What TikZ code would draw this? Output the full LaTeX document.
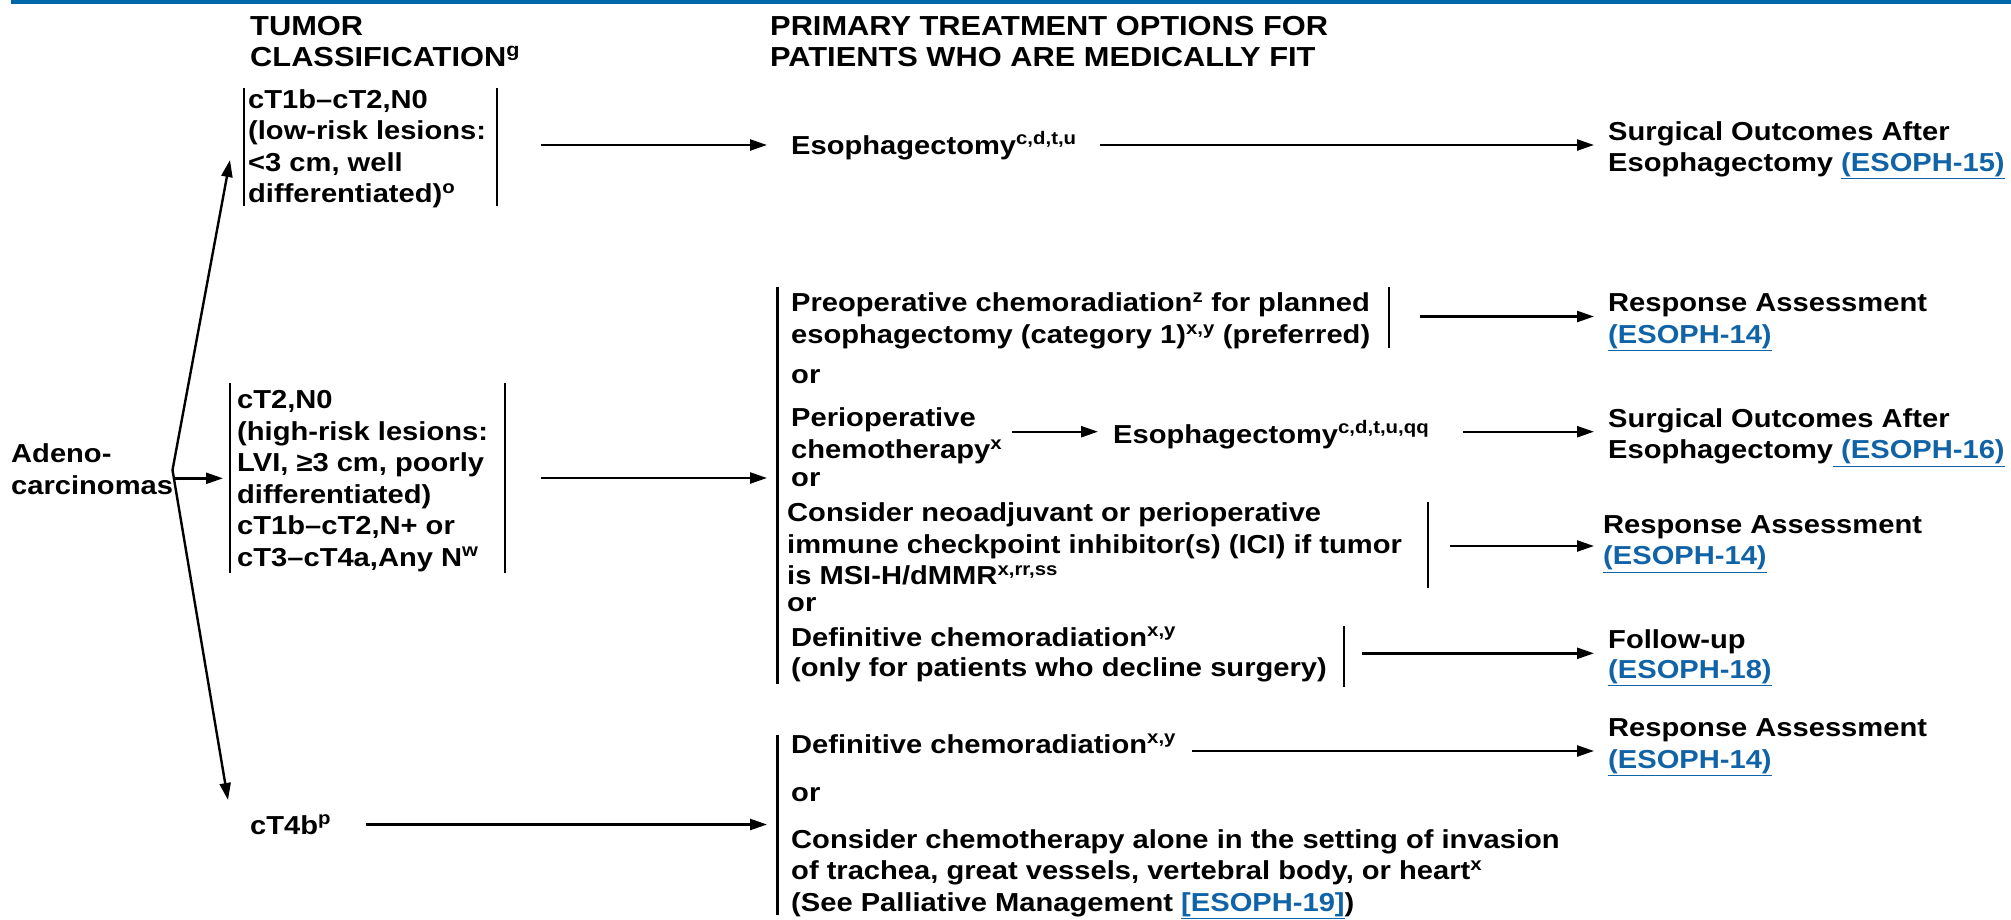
\documentclass[tikz,border=0pt]{standalone}
\usepackage{fontspec}
\setmainfont{Liberation Sans}[FakeStretch=1.12]
\usetikzlibrary{arrows.meta}
\definecolor{lnk}{HTML}{0F63A6}
\definecolor{rule}{HTML}{0067AB}
\newcommand\dfont{\fontsize{26pt}{31.6pt}\selectfont\bfseries}
\newcommand\hfont{\fontsize{27.5pt}{31pt}\selectfont\bfseries}
\newcommand\ml[2][31.6pt]{\vtop{\baselineskip=#1\relax\lineskiplimit=-\maxdimen\lineskip=0pt\relax #2}}
\newcommand\rl[1]{\hbox{#1}}
\newcommand\sps[1]{\textsuperscript{#1}}
\newcommand\lk[1]{\textcolor{lnk}{\underline{#1}}}
\tikzset{
  txt/.style={inner sep=0pt, anchor=base west, font=\dfont},
  hdr/.style={inner sep=0pt, anchor=base west, font=\hfont},
  bar/.style={line width=2.2pt},
  arr/.style={line width=2.4pt, -{Triangle[length=17pt,width=11pt]}},
  darr/.style={line width=2.4pt, {Triangle[length=17pt,width=11pt]}-{Triangle[length=17pt,width=11pt]}},
}
\begin{document}
\begin{tikzpicture}[x=1pt,y=-1pt]
\useasboundingbox (0,0) rectangle (2011,919);
\fill[rule] (11,0) rectangle (2011,4);

% headers
\node[hdr] (hd1) at (250,35) {\ml[31pt]{\rl{TUMOR}\rl{CLASSIFICATION\sps{g}}}};
\node[hdr] (hd2) at (770,35) {\ml[31pt]{\rl{PRIMARY TREATMENT OPTIONS FOR}\rl{PATIENTS WHO ARE MEDICALLY FIT}}};

% left column
\node[txt] (adeno) at (11,462) {\ml[32.5pt]{\rl{Adeno-}\rl{carcinomas}}};

\node[txt] (k1) at (248,108) {\ml{\rl{cT1b–cT2,N0}\rl{(low-risk lesions:}\rl{<3 cm, well}\rl{differentiated)\sps{o}}}};
\draw[bar] (244,88) -- (244,206);
\draw[bar] (497,88) -- (497,206);

\node[txt] (k2) at (237,408.5) {\ml[31.5pt]{\rl{cT2,N0}\rl{(high-risk lesions:}\rl{LVI, ≥3 cm, poorly}\rl{differentiated)}\rl{cT1b–cT2,N+ or}\rl{cT3–cT4a,Any N\sps{w}}}};
\draw[bar] (230,383) -- (230,573);
\draw[bar] (505,383) -- (505,573);

\node[txt] (k3) at (250,834) {cT4b\sps{p}};

\coordinate (v) at (172.5,470);
\coordinate (v1) at (230,160);
\coordinate (v3) at (228,800);
\draw[darr] (v1) -- (v) -- (v3);
\coordinate (h0) at (175,478.3);
\coordinate (h1) at (223,478.3);
\draw[arr] (h0) -- (h1);

% row 1
\coordinate (a1s) at (541,145); \coordinate (a1e) at (767,145);
\draw[arr] (a1s) -- (a1e);
\node[txt] (e1) at (791,154) {Esophagectomy\sps{c,d,t,u}};
\coordinate (a2s) at (1100,145); \coordinate (a2e) at (1594,145);
\draw[arr] (a2s) -- (a2e);
\node[txt] (r1) at (1608,140) {\ml{\rl{Surgical Outcomes After}\rl{Esophagectomy \lk{(ESOPH-15)}}}};

% middle group
\draw[bar] (777.5,287) -- (777.5,684);
\coordinate (a3s) at (541,478); \coordinate (a3e) at (767,478);
\draw[arr] (a3s) -- (a3e);

\node[txt] (p1) at (791,311.5) {\ml{\rl{Preoperative chemoradiation\sps{z} for planned}\rl{esophagectomy (category 1)\sps{x,y} (preferred)}}};
\draw[bar] (1389,287) -- (1389,348);
\coordinate (a4s) at (1420,316.5); \coordinate (a4e) at (1594,316.5);
\draw[arr] (a4s) -- (a4e);
\node[txt] (r2) at (1608,311.5) {\ml{\rl{Response Assessment}\rl{\lk{(ESOPH-14)}}}};

\node[txt] (or1) at (791,383.5) {or};

\node[txt] (p2) at (791,426.5) {\ml{\rl{Perioperative}\rl{chemotherapy\sps{x}}}};
\coordinate (a5s) at (1012,431.7); \coordinate (a5e) at (1098,431.7);
\draw[arr] (a5s) -- (a5e);
\node[txt] (e2) at (1113,443) {Esophagectomy\sps{c,d,t,u,qq}};
\coordinate (a6s) at (1463,431.7); \coordinate (a6e) at (1594,431.7);
\draw[arr] (a6s) -- (a6e);
\node[txt] (r3) at (1608,427.3) {\ml{\rl{Surgical Outcomes After}\rl{Esophagectomy\lk{\ (ESOPH-16)}}}};

\node[txt] (or2) at (791,486.7) {or};

\node[txt] (p3) at (787,521.7) {\ml{\rl{Consider neoadjuvant or perioperative}\rl{immune checkpoint inhibitor(s) (ICI) if tumor}\rl{is MSI-H/dMMR\sps{x,rr,ss}}}};
\draw[bar] (1428,502) -- (1428,588);
\coordinate (a7s) at (1450,546); \coordinate (a7e) at (1594,546);
\draw[arr] (a7s) -- (a7e);
\node[txt] (r4) at (1603,533.3) {\ml{\rl{Response Assessment}\rl{\lk{(ESOPH-14)}}}};

\node[txt] (or3) at (787,611.7) {or};

\node[txt] (p4) at (791,646) {\ml[30.7pt]{\rl{Definitive chemoradiation\sps{x,y}}\rl{(only for patients who decline surgery)}}};
\draw[bar] (1343.7,626) -- (1343.7,687);
\coordinate (a8s) at (1362,653.3); \coordinate (a8e) at (1594,653.3);
\draw[arr] (a8s) -- (a8e);
\node[txt] (r5) at (1608,648) {\ml[30.5pt]{\rl{Follow-up}\rl{\lk{(ESOPH-18)}}}};

% bottom group
\draw[bar] (777.5,735) -- (777.5,915);
\coordinate (a9s) at (365.5,824.5); \coordinate (a9e) at (767,824.5);
\draw[arr] (a9s) -- (a9e);
\node[txt] (p5) at (791,753) {Definitive chemoradiation\sps{x,y}};
\coordinate (a10s) at (1192,751); \coordinate (a10e) at (1594,751);
\draw[arr] (a10s) -- (a10e);
\node[txt] (r6) at (1608,736.7) {\ml{\rl{Response Assessment}\rl{\lk{(ESOPH-14)}}}};
\node[txt] (or4) at (791,801.7) {or};
\node[txt] (p6) at (791,848.3) {\ml{\rl{Consider chemotherapy alone in the setting of invasion}\rl{of trachea, great vessels, vertebral body, or heart\sps{x}}\rl{(See Palliative Management \lk{[ESOPH-19]})}}};
\end{tikzpicture}
\end{document}
